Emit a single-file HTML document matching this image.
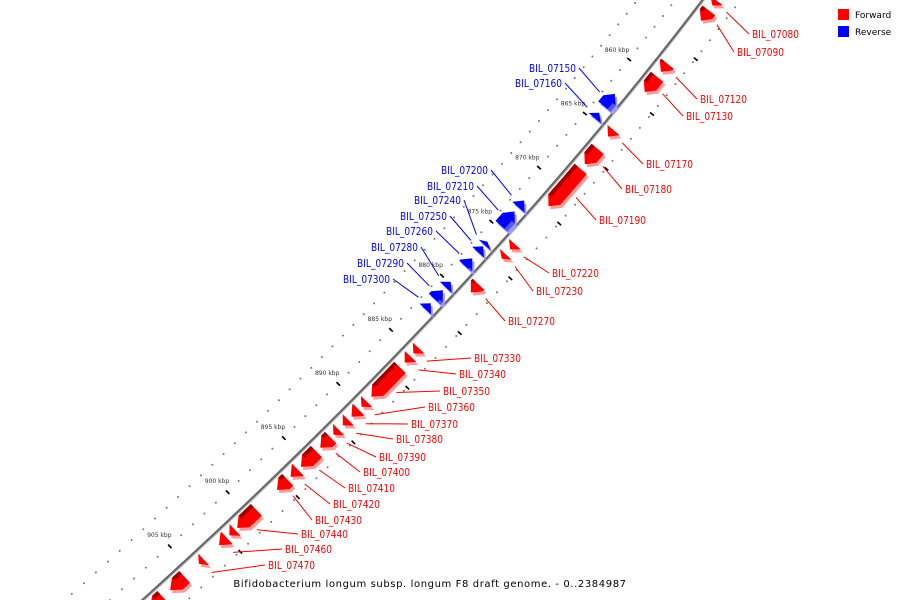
<!DOCTYPE html>
<html><head><meta charset="utf-8"><style>
html,body{margin:0;padding:0;background:#fff;overflow:hidden;}
svg{display:block;font-family:"DejaVu Sans","Liberation Sans",sans-serif;}
</style></head><body>
<svg id="chart" width="900" height="600" viewBox="0 0 900 600" xmlns="http://www.w3.org/2000/svg">
<g>
<rect x="838" y="9" width="11" height="11" fill="#ff0000"/>
<text x="855" y="18" font-size="9" fill="#000">Forward</text>
<rect x="838" y="26" width="11" height="11" fill="#0000ff"/>
<text x="855" y="35" font-size="9" fill="#000">Reverse</text>
</g>
<text x="430" y="587" font-size="10" text-anchor="middle" letter-spacing="0.6" fill="#000">Bifidobacterium longum subsp. longum F8 draft genome. - 0..2384987</text>
<g id="layer"></g>
</svg>
<script>
// ---- data ----
const tickKb = [860, 865, 870, 875, 880, 885, 890, 895, 900, 905];
const tickLabels = ["860 kbp","865 kbp","870 kbp","875 kbp","880 kbp","885 kbp","890 kbp","895 kbp","900 kbp","905 kbp"];
const fwdNames = ["BIL_07080","BIL_07090","BIL_07120","BIL_07130","BIL_07170","BIL_07180","BIL_07190","BIL_07220","BIL_07230","BIL_07270","BIL_07330","BIL_07340","BIL_07350","BIL_07360","BIL_07370","BIL_07380","BIL_07390","BIL_07400","BIL_07410","BIL_07420","BIL_07430","BIL_07440","BIL_07450","BIL_07460","BIL_07470","BIL_07480","BIL_07490"];
const fwdStart = [852.71,853.63,858.51,859.71,864.6,866.33,868.17,875.07,876.0,878.75,884.6,885.37,886.38,889.51,890.25,891.2,892.09,892.82,894.11,895.77,896.69,899.45,901.3,902.02,904.0,905.61,907.45];
const fwdEnd   = [853.19,854.57,859.27,861.11,865.2,867.73,871.59,875.55,876.4,879.51,885.1,885.94,889.07,889.99,890.91,891.7,892.57,893.76,895.51,896.43,897.63,901.12,901.8,902.69,904.4,906.83,908.5];
const fwdShown = [1,1,1,1,1,1,1,1,1,1,1,1,1,1,1,1,1,1,1,1,1,1,0,1,1,0,0];
const revNames = ["BIL_07150","BIL_07160","BIL_07200","BIL_07210","BIL_07240","BIL_07250","BIL_07260","BIL_07280","BIL_07290","BIL_07300"];
const revStart = [862.56,864.3,872.40,873.41,876.2,876.63,877.74,879.9,880.68,881.88];
const revEnd   = [863.73,864.8,873.02,874.77,876.5,877.16,878.45,880.4,881.49,882.41];

// ---- layout (label anchor positions) ----
const fwdLabelXY = [[752,38],[737,56],[700,103],[686,120],[646,168],[625,193],[599,224],[552,277],[536,295],[508,325],[474,362],[459,378],[443,395],[428,411],[411,428],[396,443],[379,461],[363,476],[348,492],[333,508],[315,524],[301,538],null,[285,553],[268,569],null,null];
const revLabelXY = [[576,72],[562,87],[488,174],[474,190],[461,204],[447,220],[433,235],[418,251],[404,267],[390,283]];

const NS = "http://www.w3.org/2000/svg";
const layer = document.getElementById('layer');
function X(y){return 703-0.7609*y-0.0002875*y*y;}
function yOf(kb){return 73+(kb-860)*10.87;}
function frame(kb){
  const y=yOf(kb), x=X(y), d=-(0.7609+0.000575*y), L=Math.hypot(d,1);
  const t=[d/L,1/L]; return {x:x,y:y,t:t,n:[t[1],-t[0]]};
}
function pt(kb,off){const f=frame(kb);return [f.x+f.n[0]*off,f.y+f.n[1]*off];}
function mk(tag,attrs){const e=document.createElementNS(NS,tag);for(const k in attrs)e.setAttribute(k,attrs[k]);layer.appendChild(e);return e;}
function ptsStr(a,dx,dy){return a.map(p=>(p[0]+(dx||0)).toFixed(1)+','+(p[1]+(dy||0)).toFixed(1)).join(' ');}

for(let kb=852;kb<=911;kb+=1){
  [[-22,0],[-52,0.5],[30,0.3]].forEach(tr=>{
    const p=pt(kb+tr[1],tr[0]);
    const c=mk('circle',{cx:p[0].toFixed(1),cy:p[1].toFixed(1),r:1,fill:'#777'});
    
    
  });
}
for(let kb=857;kb<=911;kb+=5){
  const a=pt(kb,28),b=pt(kb,33);
  const l=mk('line',{x1:a[0],y1:a[1],x2:b[0],y2:b[1],stroke:'#000','stroke-width':1.6});
  
  
}
tickKb.forEach((kb,i)=>{
  const a=pt(kb,-19),b=pt(kb,-24);
  const l=mk('line',{x1:a[0],y1:a[1],x2:b[0],y2:b[1],stroke:'#000','stroke-width':1.6});
  
  
  const p=pt(kb,-37);
  const t=mk('text',{x:p[0].toFixed(1),y:(p[1]+2).toFixed(1),'font-size':6,'text-anchor':'middle',fill:'#333'});
  t.textContent=tickLabels[i];
  
  
});
(function(){
  let d='';for(let y=-10;y<=612;y+=4){d+=(y===-10?'M':'L')+X(y).toFixed(1)+','+y;}
  const p1=mk('path',{d:d,stroke:'#666',fill:'none','stroke-width':3});
  
  
  const p2=mk('path',{d:d,stroke:'#bbb',fill:'none','stroke-width':1,transform:'translate(1,0.5)'});
  
  
})();

function genePoly(s,e,sign){
  const a=3*sign,b=19*sign,m=11*sign;
  const len=e-s, ah=Math.min(0.6,len);
  const pts=[];const steps=6;
  if(sign>0){
    for(let i=0;i<=steps;i++){pts.push(pt(s+(len-ah)*i/steps,a));}
    pts.push(pt(e,m));
    for(let i=steps;i>=0;i--){pts.push(pt(s+(len-ah)*i/steps,b));}
  }else{
    pts.push(pt(s,m));
    for(let i=0;i<=steps;i++){pts.push(pt(s+ah+(len-ah)*i/steps,a));}
    for(let i=steps;i>=0;i--){pts.push(pt(s+ah+(len-ah)*i/steps,b));}
  }
  return pts;
}
function stripPoly(s,e,sign,o1,o2){
  const pts=[];const len=e-s, ah=Math.min(0.6,len);
  const s2=sign>0?s:s+ah, e2=sign>0?e-ah:e;
  for(let i=0;i<=6;i++)pts.push(pt(s2+(e2-s2)*i/6,o1*sign));
  for(let i=6;i>=0;i--)pts.push(pt(s2+(e2-s2)*i/6,o2*sign));
  return pts;
}
function drawGene(s,e,sign,name,cols){
  const poly=genePoly(s,e,sign);
  const sh=mk('polygon',{points:ptsStr(poly,2,3),fill:cols[0]});
  
  
  const g=mk('polygon',{points:ptsStr(poly),fill:cols[1]});
  
  
  if(e-s>0.7){
    const st=mk('polygon',{points:ptsStr(stripPoly(s,e,sign,3,7)),fill:cols[2]});
    
    
  }
}
function leader(x1,y1,x2,y2,col){
  const l=mk('line',{x1:x1,y1:y1,x2:x2.toFixed(1),y2:y2.toFixed(1),stroke:col,'stroke-width':1});
  
  
}
function label(x,y,txt,col,anchor){
  const t=mk('text',{x:x,y:y,'font-size':11,fill:col,'text-anchor':anchor,textLength:47,lengthAdjust:'spacingAndGlyphs'});
  t.textContent=txt;
  
  
}
fwdNames.forEach((nm,i)=>{
  drawGene(fwdStart[i],fwdEnd[i],1,nm,['#ff9b9b','#ff0000','#a00000']);
});
revNames.forEach((nm,i)=>{
  drawGene(revStart[i],revEnd[i],-1,nm,['#9b9bff','#0000ff','#5555ff']);
});
fwdNames.forEach((nm,i)=>{
  const xy=fwdLabelXY[i]; if(!xy||!fwdShown[i])return;
  const p=pt((fwdStart[i]+fwdEnd[i])/2,26);
  leader(xy[0]-3,xy[1]-4,p[0],p[1],'#ff0000');
  label(xy[0],xy[1],nm,'#ff0000','start');
});
revNames.forEach((nm,i)=>{
  const xy=revLabelXY[i];
  const p=pt((revStart[i]+revEnd[i])/2,-24);
  leader(xy[0]+3,xy[1]-4,p[0],p[1],'#0000ff');
  label(xy[0],xy[1],nm,'#0000ff','end');
});
</script>
</body></html>
